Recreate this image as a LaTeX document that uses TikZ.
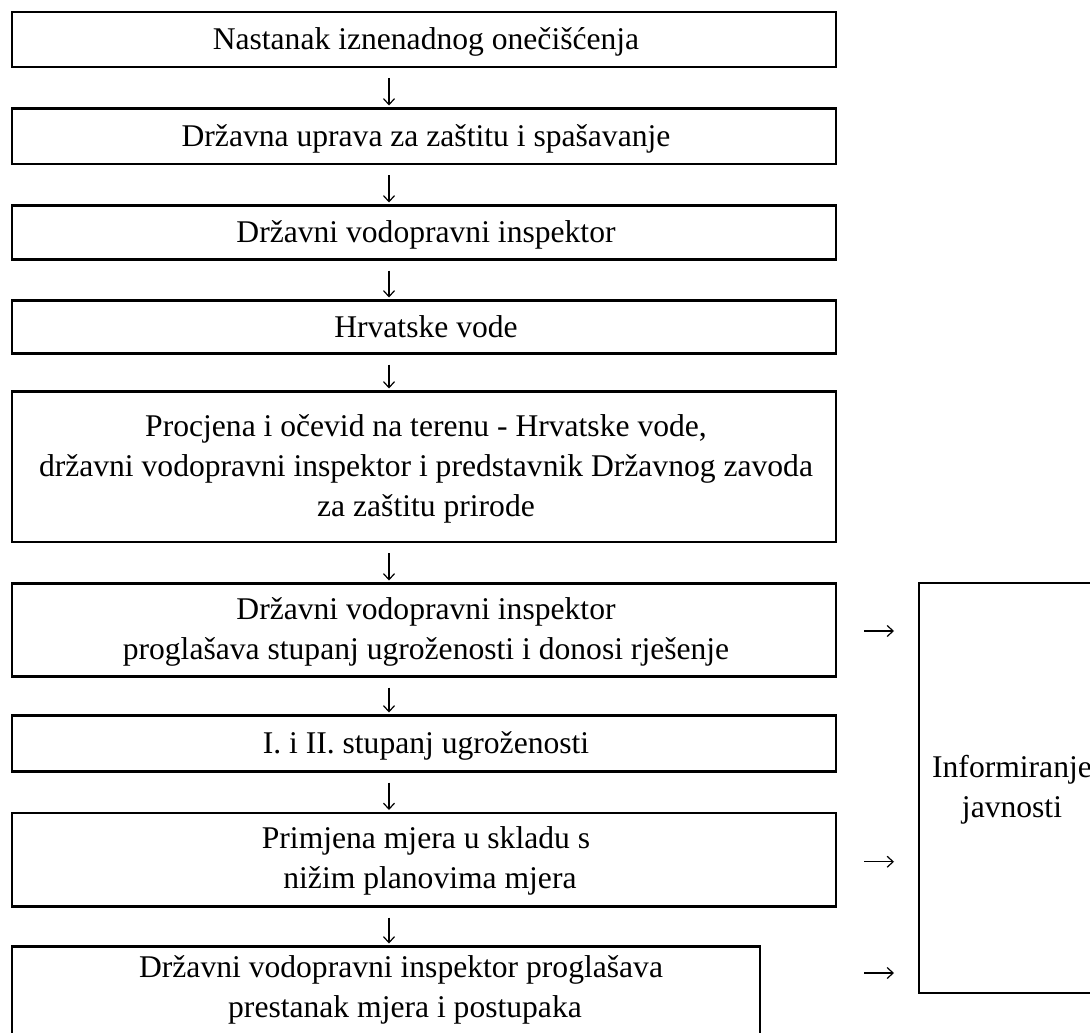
\documentclass[tikz,border=0pt]{standalone}
\usepackage{fontspec}
\setmainfont{Liberation Serif}
\usetikzlibrary{arrows.meta,calc}
\begin{document}
\begin{tikzpicture}[x=1pt,y=-1pt,
  box/.style={draw, line width=2.7pt, inner sep=0pt, outer sep=0pt, rectangle},
  txt/.style={font=\fontsize{31.6pt}{40pt}\selectfont, align=center, inner sep=0pt, anchor=base},
  darr/.style={-{Straight Barb[length=6pt,width=11pt]}, line width=1.2pt, shorten <=11pt, shorten >=3pt},
  rarr/.style={-{Straight Barb[length=6pt,width=11pt]}, line width=1.2pt}]
\useasboundingbox (0,0) rectangle (1090,1033);
% boxes
\node[box, minimum width=824pt, minimum height=55pt]   (b1) at (424,39.5) {};
\node[box, minimum width=824pt, minimum height=55.5pt] (b2) at (424,136.25) {};
\node[box, minimum width=824pt, minimum height=54pt]   (b3) at (424,232.5) {};
\node[box, minimum width=824pt, minimum height=53pt]   (b4) at (424,327) {};
\node[box, minimum width=824pt, minimum height=150.5pt] (b5) at (424,466.75) {};
\node[box, minimum width=824pt, minimum height=93pt]   (b6) at (424,630) {};
\node[box, minimum width=824pt, minimum height=56pt]   (b7) at (424,743.5) {};
\node[box, minimum width=824pt, minimum height=93.5pt] (b8) at (424,859.75) {};
\node[box, minimum width=748pt, minimum height=94.5pt] (b9) at (386,993.75) {};
\node[box, minimum width=187pt, minimum height=410pt]  (info) at (1012.5,788) {};
% texts (anchor base = baseline of the last line)
\node[txt] (t1) at (426,49.5) {Nastanak iznenadnog onečišćenja};
\node[txt] (t2) at (426,146) {Državna uprava za zaštitu i spašavanje};
\node[txt] (t3) at (426,242.5) {Državni vodopravni inspektor};
\node[txt] (t4) at (426,337) {Hrvatske vode};
\node[txt] (t5) at (426,516.5) {Procjena i očevid na terenu - Hrvatske vode,\\državni vodopravni inspektor i predstavnik Državnog zavoda\\za zaštitu prirode};
\node[txt] (t6) at (426,659) {Državni vodopravni inspektor\\proglašava stupanj ugroženosti i donosi rješenje};
\node[txt] (t7) at (426,753) {I. i II. stupanj ugroženosti};
\node[txt] (t8) at (426,888.5) {Primjena mjera u skladu s\\\hspace*{7.9pt}nižim planovima mjera};
\node[txt] (t9) at (405,1017) {Državni vodopravni inspektor proglašava\hspace*{7.9pt}\\prestanak mjera i postupaka};
\node[txt] (tinfo) at (1012,817) {Informiranje\\javnosti};
% down arrows
\coordinate (ax) at (389,0);
\draw[darr] (b1.south -| ax) -- (b2.north -| ax);
\draw[darr] (b2.south -| ax) -- (b3.north -| ax);
\draw[darr] (b3.south -| ax) -- (b4.north -| ax);
\draw[darr] (b4.south -| ax) -- (b5.north -| ax);
\draw[darr] (b5.south -| ax) -- (b6.north -| ax);
\draw[darr] (b6.south -| ax) -- (b7.north -| ax);
\draw[darr] (b7.south -| ax) -- (b8.north -| ax);
\draw[darr] (b8.south -| ax) -- (b9.north -| ax);
% right arrows
\coordinate (r6) at ([yshift=-1pt]b6.east);
\coordinate (r8) at ([yshift=-2pt]b8.east);
\coordinate (r9) at ([yshift=20.75pt]b9.east);
\draw[rarr, shorten <=28pt, shorten >=25pt] (r6) -- (r6 -| info.west);
\draw[rarr, shorten <=28pt, shorten >=25pt] (r8) -- (r8 -| info.west);
\draw[rarr, shorten <=104pt, shorten >=25pt] (r9) -- (r9 -| info.west);
\end{tikzpicture}
\end{document}
